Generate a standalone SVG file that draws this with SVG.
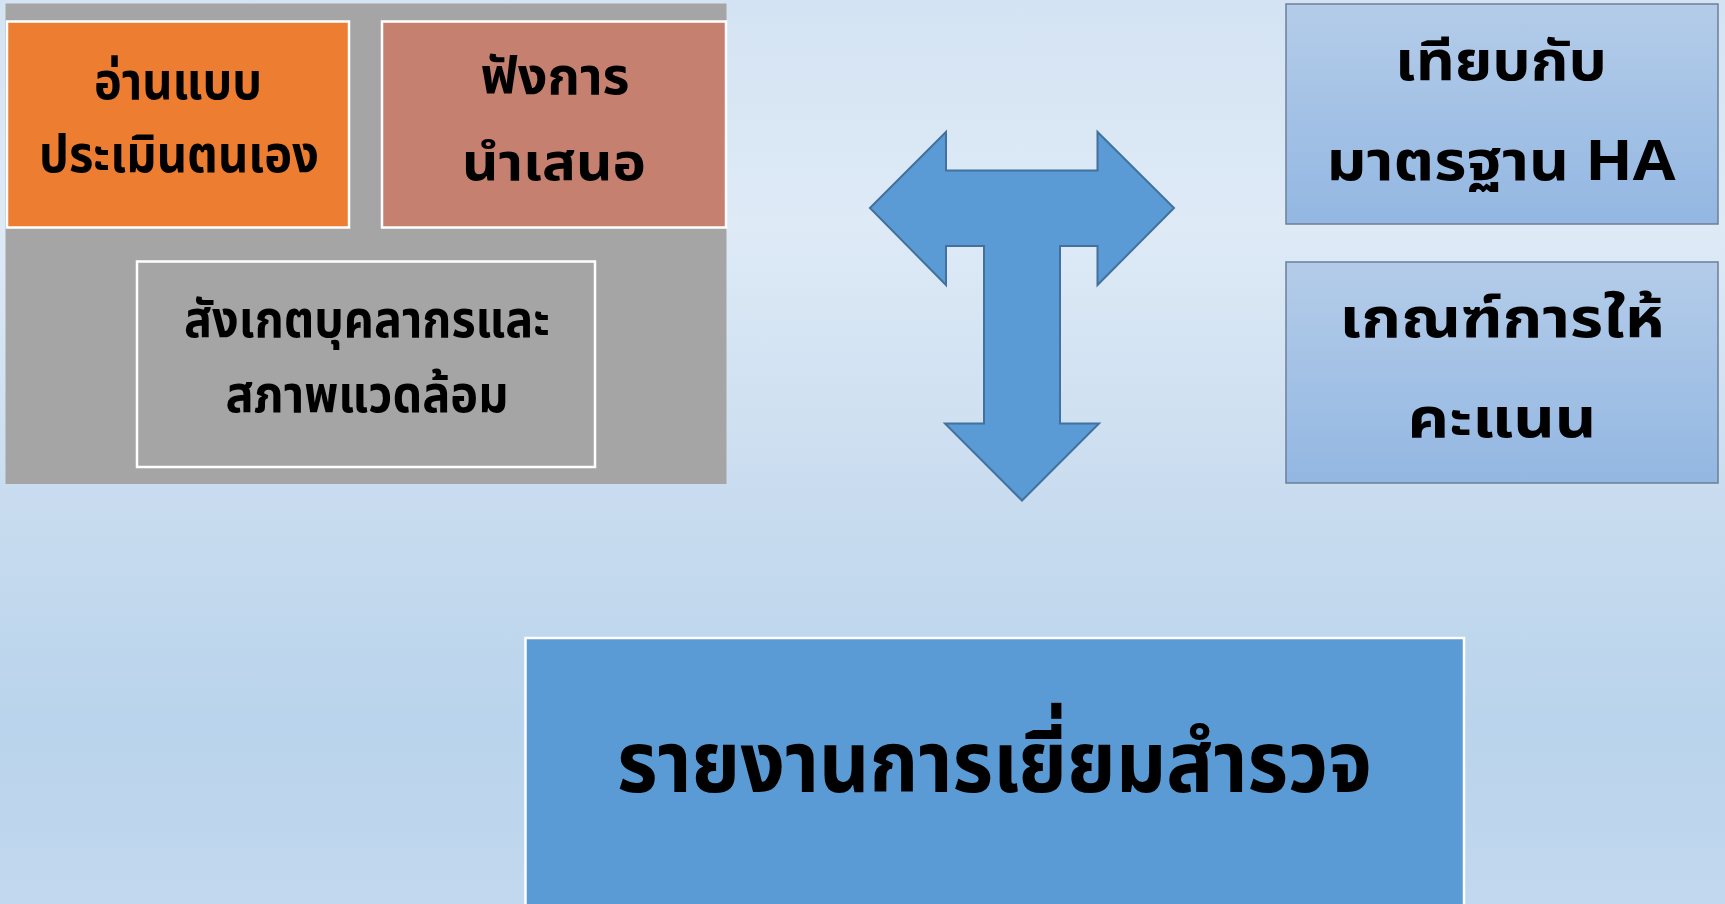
<svg xmlns="http://www.w3.org/2000/svg" width="1725" height="904" viewBox="0 0 1725 904">
<defs>
<linearGradient id="bg" x1="0" y1="0" x2="0" y2="1">
<stop offset="0" stop-color="#d4e3f3"/>
<stop offset="0.25" stop-color="#deeaf6"/>
<stop offset="0.55" stop-color="#c9dcef"/>
<stop offset="0.8" stop-color="#b9d4ec"/>
<stop offset="1" stop-color="#c2d8ee"/>
</linearGradient>
<linearGradient id="bluebox" x1="0" y1="0" x2="0" y2="1">
<stop offset="0" stop-color="#b4cce9"/>
<stop offset="1" stop-color="#93b7e2"/>
</linearGradient>
<style>
.t{font-family:"Noto Sans Thai","Noto Sans","DejaVu Sans",sans-serif;fill:#000;text-anchor:middle}
.l{font-size:51px;font-weight:bold}
.r{font-size:55px;font-weight:bold}
.b{font-size:86px;font-weight:bold}
.wb{stroke:#ffffff;stroke-width:2.5}
.rb{fill:url(#bluebox);stroke:#6d7f96;stroke-width:1.5}
</style>
</defs>
<rect x="0" y="0" width="1725" height="904" fill="url(#bg)"/>
<rect x="5.5" y="3.5" width="721" height="480.5" fill="#a5a5a5"/>
<g id="node-read">
<rect class="wb" x="7" y="21.5" width="342" height="206" fill="#ed7d31"/>
<text class="t l" x="178" y="99" textLength="168" lengthAdjust="spacingAndGlyphs">อ่านแบบ</text>
<text class="t l" x="179" y="172" textLength="280" lengthAdjust="spacingAndGlyphs">ประเมินตนเอง</text>
</g>
<g id="node-listen">
<rect class="wb" x="382" y="21.5" width="344" height="206" fill="#c5806f"/>
<text class="t l" x="555" y="94" textLength="149" lengthAdjust="spacingAndGlyphs">ฟังการ</text>
<text class="t l" x="554" y="180" textLength="184" lengthAdjust="spacingAndGlyphs">นำเสนอ</text>
</g>
<g id="node-observe">
<rect class="wb" x="137" y="261.5" width="458" height="205.5" fill="#a5a5a5"/>
<text class="t l" x="367" y="337" textLength="366" lengthAdjust="spacingAndGlyphs">สังเกตบุคลากรและ</text>
<text class="t l" x="367" y="412" textLength="283" lengthAdjust="spacingAndGlyphs">สภาพแวดล้อม</text>
</g>
<g id="node-standard">
<rect class="rb" x="1286" y="4" width="432" height="220"/>
<text class="t r" x="1501" y="80" textLength="212" lengthAdjust="spacingAndGlyphs">เทียบกับ</text>
<text class="t r" x="1501" y="180" textLength="349" lengthAdjust="spacingAndGlyphs">มาตรฐาน HA</text>
</g>
<g id="node-criteria">
<rect class="rb" x="1286" y="262" width="432" height="221"/>
<text class="t r" x="1502" y="337" textLength="325" lengthAdjust="spacingAndGlyphs">เกณฑ์การให้</text>
<text class="t r" x="1502" y="437" textLength="189" lengthAdjust="spacingAndGlyphs">คะแนน</text>
</g>
<g id="connectors">
<polygon points="870,208 946,132 946,170.5 1097.5,170.5 1097.5,132 1174,208 1097.5,285 1097.5,246 1060,246 1060,423.5 1099,423.5 1022,500.5 945,423.5 984,423.5 984,246 946,246 946,285" fill="#5b9bd5" stroke="#41719c" stroke-width="2" stroke-linejoin="miter"/>
</g>
<g id="node-report">
<rect class="wb" x="525.5" y="638" width="938.5" height="280" fill="#5b9bd5"/>
<text class="t b" x="994.5" y="792" textLength="755" lengthAdjust="spacingAndGlyphs">รายงานการเยี่ยมสำรวจ</text>
</g>
</svg>
